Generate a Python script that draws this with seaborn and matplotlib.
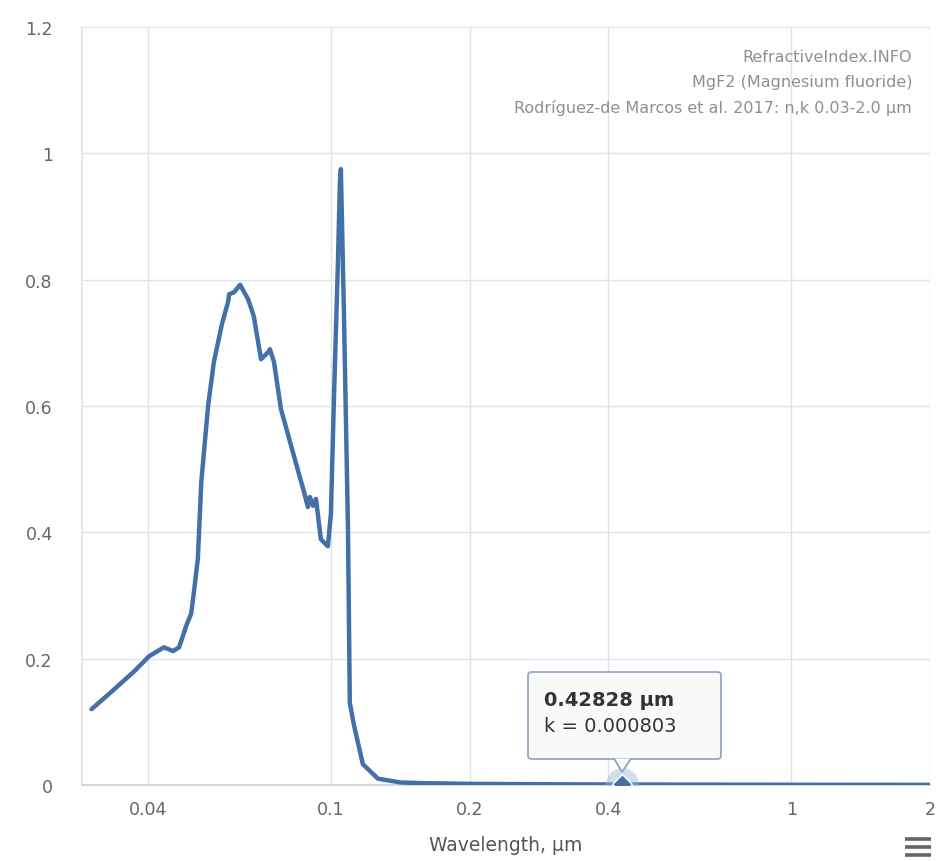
import matplotlib
matplotlib.use("Agg")
import matplotlib.pyplot as plt
from matplotlib.patches import FancyBboxPatch, Polygon
import seaborn as sns
import pandas as pd

# Extinction coefficient k of MgF2 versus wavelength (µm)
wavelength = [0.0302, 0.0333, 0.0374, 0.0403, 0.0434, 0.0454, 0.0468, 0.0485,
              0.0497, 0.0504, 0.0514, 0.0523, 0.0541, 0.0557, 0.0580, 0.0598,
              0.0601, 0.0616, 0.0635, 0.0661, 0.0680, 0.0705, 0.0730, 0.0737,
              0.0752, 0.0779, 0.0831, 0.0874, 0.0891, 0.0900, 0.0914, 0.0928,
              0.0951, 0.0966, 0.0985, 0.1000, 0.1015, 0.1035, 0.1046, 0.1051,
              0.1067, 0.1089, 0.1099, 0.1122, 0.1173, 0.1265, 0.1418, 0.1567,
              0.2000, 0.3000, 0.42828, 0.6000, 1.0000, 1.5000, 2.0000]
k_values = [0.120, 0.147, 0.180, 0.204, 0.218, 0.212, 0.218, 0.252,
            0.271, 0.305, 0.358, 0.480, 0.600, 0.670, 0.730, 0.765,
            0.777, 0.780, 0.792, 0.769, 0.742, 0.674, 0.685, 0.690,
            0.670, 0.595, 0.521, 0.464, 0.440, 0.456, 0.442, 0.453,
            0.389, 0.384, 0.378, 0.430, 0.610, 0.820, 0.955, 0.975,
            0.750, 0.405, 0.130, 0.095, 0.033, 0.010, 0.004, 0.003,
            0.0018, 0.0011, 0.000803, 0.0006, 0.0004, 0.0003, 0.0002]

x_ticks = [0.04, 0.1, 0.2, 0.4, 1, 2]
x_tick_labels = ["0.04", "0.1", "0.2", "0.4", "1", "2"]
y_ticks = [0, 0.2, 0.4, 0.6, 0.8, 1.0, 1.2]
y_tick_labels = ["0", "0.2", "0.4", "0.6", "0.8", "1", "1.2"]

hover_wl = 0.42828
hover_k = 0.000803

credit_lines = ["RefractiveIndex.INFO",
                "MgF2 (Magnesium fluoride)",
                "Rodríguez-de Marcos et al. 2017: n,k 0.03-2.0 µm"]

df = pd.DataFrame({"wavelength": wavelength, "k": k_values})

sns.set_theme(style="white")
plt.rcParams["font.family"] = ["DejaVu Sans"]

W, H = 943, 862
fig = plt.figure(figsize=(W / 100, H / 100), dpi=100)
fig.patch.set_facecolor("white")

def fx(px):
    return px / W

def fy(py):
    return 1 - py / H

left, right, top, bottom = 82, 930, 28, 786
ax = fig.add_axes([fx(left), fy(bottom), fx(right - left), (bottom - top) / H])

line_color = "#4470a8"
sns.lineplot(data=df, x="wavelength", y="k", ax=ax, color=line_color,
             linewidth=3.2, solid_joinstyle="round", solid_capstyle="round",
             zorder=3)

ax.set_xscale("log")
ax.set_xlim(0.0288, 2.0)
ax.set_ylim(0, 1.2)
ax.set_xticks(x_ticks)
ax.set_xticklabels(x_tick_labels)
ax.xaxis.set_minor_locator(matplotlib.ticker.NullLocator())
ax.set_yticks(y_ticks)
ax.set_yticklabels(y_tick_labels)

grid_color = "#e0e4ea"
ax.grid(True, color=grid_color, linewidth=1.0, zorder=0)
for side in ["top", "right"]:
    ax.spines[side].set_visible(False)
ax.spines["left"].set_color(grid_color)
ax.spines["bottom"].set_color("#c8d3e0")
ax.spines["bottom"].set_linewidth(1.2)

ax.tick_params(axis="x", colors="#666666", labelsize=12.5, length=0, pad=11)
ax.tick_params(axis="y", colors="#666666", labelsize=12.5, length=0, pad=21)
for lbl in ax.get_yticklabels():
    lbl.set_horizontalalignment("right")

ax.set_xlabel("Wavelength, µm", color="#555555", fontsize=13.5, labelpad=12)
ax.set_ylabel("")

# Credit block in the upper right corner
for i, line in enumerate(credit_lines):
    fig.text(fx(912), fy(57 + i * 25.5), line, ha="right", va="center",
             color="#8f8f8f", fontsize=11.5)

# Hovered point: halo and diamond marker
ax.scatter([hover_wl], [hover_k], s=560, color="#9fb6d6", alpha=0.45,
           zorder=4, linewidths=0)
ax.scatter([hover_wl], [hover_k], s=100, marker="D", color=line_color,
           edgecolor="white", linewidths=1.0, zorder=5)

# Tooltip box with a downward pointer
bx0, bx1, by0, by1 = 528, 721, 673, 760
box = FancyBboxPatch((fx(bx0), fy(by1)), fx(bx1 - bx0), (by1 - by0) / H,
                     boxstyle="round,pad=0,rounding_size=0.004",
                     transform=fig.transFigure, facecolor="#f9f9f9",
                     edgecolor="#8ea3c4", linewidth=1.3, alpha=0.95, zorder=10)
fig.patches.append(box)
pointer = Polygon([(fx(614), fy(by1 - 0.5)), (fx(622), fy(773)),
                   (fx(631), fy(by1 - 0.5))], closed=False,
                  transform=fig.transFigure, facecolor="#f9f9f9",
                  edgecolor="#8ea3c4", linewidth=1.3, zorder=11)
fig.patches.append(pointer)
fig.text(fx(544), fy(700), f"{hover_wl} µm", ha="left", va="center",
         fontsize=14, fontweight="bold", color="#333333", zorder=12)
fig.text(fx(544), fy(727), f"k = {hover_k:.6f}", ha="left", va="center",
         fontsize=14, color="#333333", zorder=12)

# Menu icon at the bottom right
for dy in (840, 848, 856):
    fig.add_artist(plt.Line2D([fx(905), fx(931)], [fy(dy), fy(dy)],
                              transform=fig.transFigure, color="#666666",
                              linewidth=2.6, solid_capstyle="butt"))

fig.savefig("out.png", dpi=100, facecolor="white")
